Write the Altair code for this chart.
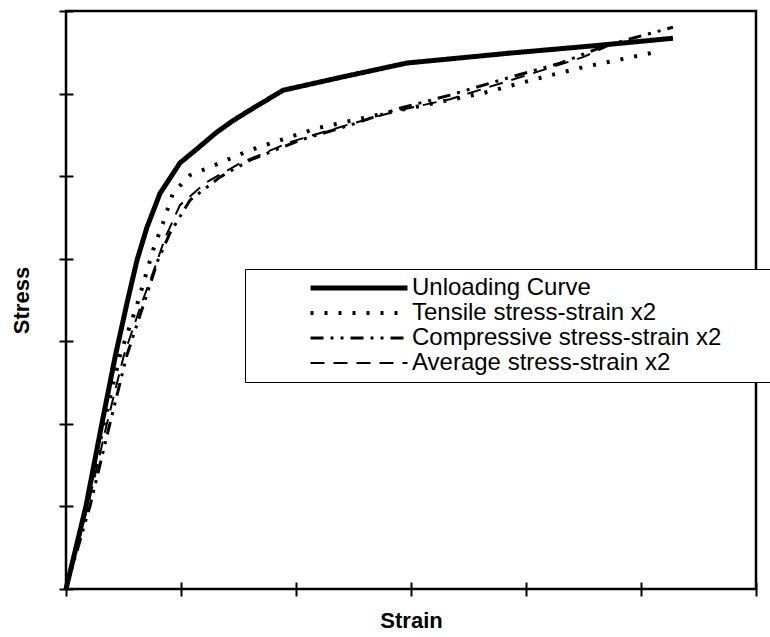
import altair as alt
import pandas as pd

series_names = [
    "Unloading Curve",
    "Tensile stress-strain x2",
    "Compressive stress-strain x2",
    "Average stress-strain x2",
]

unload_strain = [0, 0.174, 0.313, 0.43, 0.530, 0.617, 0.704, 0.817, 0.991, 1.139, 1.30, 1.45, 1.60, 1.887, 2.40, 2.965, 3.861, 4.60, 5.278]
unload_stress = [0, 1.005, 2.01, 2.83, 3.46, 3.98, 4.38, 4.79, 5.16, 5.33, 5.52, 5.67, 5.80, 6.04, 6.20, 6.37, 6.49, 6.58, 6.67]

tensile_strain = [0, 0.174, 0.330, 0.470, 0.617, 0.757, 0.843, 0.930, 1.078, 1.252, 1.600, 2.183, 2.817, 3.626, 4.148, 4.496, 4.878, 5.165]
tensile_stress = [0, 1.005, 2.010, 2.833, 3.438, 4.104, 4.431, 4.794, 5.012, 5.109, 5.315, 5.581, 5.775, 6.005, 6.199, 6.320, 6.429, 6.513]

compress_strain = [0, 0.209, 0.383, 0.530, 0.687, 0.800, 0.904, 1.078, 1.339, 1.600, 2.035, 2.470, 2.904, 3.339, 3.774, 4.296, 4.704, 5.278]
compress_stress = [0, 1.005, 2.010, 2.833, 3.499, 3.983, 4.310, 4.709, 4.988, 5.194, 5.436, 5.617, 5.823, 5.981, 6.162, 6.368, 6.586, 6.804]

average_strain = [0, 0.191, 0.357, 0.504, 0.652, 0.774, 0.861, 0.991, 1.209, 1.513, 1.948, 2.470, 2.904, 3.339, 4.009, 4.496, 4.730, 5.252]
average_stress = [0, 1.005, 2.010, 2.833, 3.438, 3.898, 4.249, 4.649, 4.915, 5.157, 5.412, 5.630, 5.799, 5.932, 6.223, 6.441, 6.586, 6.671]

x_ticks = [0, 1, 2, 3, 4, 5, 6]
y_ticks = [0, 1, 2, 3, 4, 5, 6, 7]

rows = []
for name, xs, ys in [
    (series_names[0], unload_strain, unload_stress),
    (series_names[1], tensile_strain, tensile_stress),
    (series_names[2], compress_strain, compress_stress),
    (series_names[3], average_strain, average_stress),
]:
    for i, (xv, yv) in enumerate(zip(xs, ys)):
        rows.append({"series": name, "strain": xv, "stress": yv, "idx": i})
df = pd.DataFrame(rows)

# blank (non-trimmed) characters widen the legend box so that it runs past the right edge
pad_text = "\u2800" * 6

legend_spec = alt.Legend(
    title=None,
    orient="none",
    legendX=179,
    legendY=258,
    symbolType="stroke",
    symbolSize=9409,
    symbolStrokeColor="black",
    symbolOffset=56,
    labelOffset=2,
    clipHeight=24,
    rowPadding=1,
    padding=7,
    labelFont="Liberation Sans",
    labelFontSize=24,
    labelColor="black",
    labelLimit=900,
    labelExpr="datum.label + '" + pad_text + "'",
    fillColor="white",
    strokeColor="black",
)

chart = (
    alt.Chart(df)
    .mark_line(color="black", strokeJoin="round")
    .encode(
        x=alt.X(
            "strain:Q",
            scale=alt.Scale(domain=[0, 6], nice=False, zero=False),
            axis=alt.Axis(
                values=x_ticks,
                labels=False,
                domain=False,
                grid=False,
                ticks=True,
                tickSize=14,
                tickWidth=2,
                tickColor="black",
                offset=-7,
                title="Strain",
                titleFont="Liberation Sans",
                titleFontSize=22,
                titleFontWeight="bold",
                titleColor="black",
                titlePadding=13,
            ),
        ),
        y=alt.Y(
            "stress:Q",
            scale=alt.Scale(domain=[0, 7], nice=False, zero=False),
            axis=alt.Axis(
                values=y_ticks,
                labels=False,
                domain=False,
                grid=False,
                ticks=True,
                tickSize=14,
                tickWidth=2,
                tickColor="black",
                offset=-7,
                title="Stress",
                titleFont="Liberation Sans",
                titleFontSize=22,
                titleFontWeight="bold",
                titleColor="black",
                titlePadding=25,
            ),
        ),
        order="idx:Q",
        strokeDash=alt.StrokeDash(
            "series:N",
            scale=alt.Scale(
                domain=series_names,
                range=[[1, 0], [3, 11], [13, 7, 3, 7, 3, 7], [14, 9]],
            ),
            legend=legend_spec,
        ),
        strokeWidth=alt.StrokeWidth(
            "series:N",
            scale=alt.Scale(domain=series_names, range=[5, 2, 1.5, 2]),
            legend=legend_spec,
        ),
    )
    .properties(
        width=690,
        height=578,
        autosize=alt.AutoSizeParams(type="none"),
        padding={"left": 66, "top": 11, "right": 14, "bottom": 48},
        background="white",
    )
    .configure_view(stroke="black", strokeWidth=2.5)
)

chart.save("out.html", embed_options={"renderer": "svg", "actions": False})
